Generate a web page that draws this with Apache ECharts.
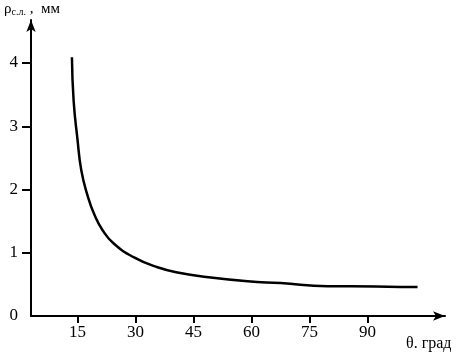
<!DOCTYPE html>
<html><head><meta charset="utf-8">
<script src="https://cdn.jsdelivr.net/npm/echarts@6/dist/echarts.min.js"></script>
<style>html,body{margin:0;padding:0;background:#fff}#c{width:472px;height:358px}</style>
</head><body><div id="c"></div>
<script>
const theta = [13.58, 14.02, 15.0, 16.01, 17.64, 19.4, 21.46, 24.31, 29.5, 35.7, 41.6, 46.8, 59, 67.5, 79.7, 85.6, 98.5, 102.9];
const rho   = [4.09, 3.4, 2.8, 2.3, 1.9, 1.60, 1.36, 1.15, 0.93, 0.77, 0.68, 0.63, 0.55, 0.52, 0.47, 0.47, 0.46, 0.46];
const xTicks = [15, 30, 45, 60, 75, 90];
const yTicks = [0, 1, 2, 3, 4];

const font = '"Liberation Serif","DejaVu Serif",serif';
const chart = echarts.init(document.getElementById('c'));
chart.setOption({
  animation: false,
  grid: {left: 31, top: 20, width: 414, height: 296},
  xAxis: {
    type: 'value', min: 3, max: 110,
    axisLine: {show: true, lineStyle: {color: '#000', width: 2}, symbol: ['none', 'arrow'], symbolSize: [7, 12]},
    axisTick: {show: true, customValues: xTicks, length: 7, lineStyle: {color: '#000', width: 2}},
    axisLabel: {customValues: xTicks, color: '#000', fontFamily: font, fontSize: 17, margin: 8},
    splitLine: {show: false}
  },
  yAxis: {
    type: 'value', min: 0, max: 4.68,
    axisLine: {show: true, lineStyle: {color: '#000', width: 2}, symbol: ['none', 'arrow'], symbolSize: [7, 12]},
    axisTick: {show: true, customValues: yTicks.slice(1), length: 9, lineStyle: {color: '#000', width: 2}},
    axisLabel: {customValues: yTicks, color: '#000', fontFamily: font, fontSize: 17, margin: 13},
    splitLine: {show: false}
  },
  graphic: [
    {type: 'text', left: 4, top: 2, style: {
      text: '{a|ρ}{s|с.л.}{a| ,  мм}', fill: '#000',
      rich: {a: {fontFamily: font, fontSize: 15, fill: '#000'}, s: {fontFamily: font, fontSize: 10, fill: '#000', padding: [6, 0, 0, 0]}}
    }},
    {type: 'text', left: 406, top: 336, style: {text: 'θ. град', fill: '#000', fontFamily: font, fontSize: 16}}
  ],
  series: [{
    type: 'line', smooth: 0.5, symbol: 'none',
    data: theta.map((t, i) => [t, rho[i]]),
    lineStyle: {color: '#000', width: 2.5}
  }]
});
</script></body></html>
